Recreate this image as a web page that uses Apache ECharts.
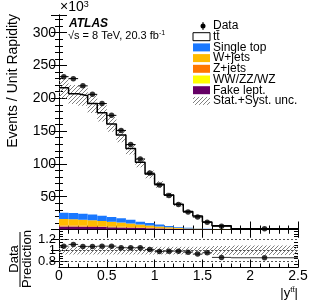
<!DOCTYPE html>
<html><head><meta charset="utf-8">
<script src="https://cdn.jsdelivr.net/npm/echarts@6/dist/echarts.min.js"></script>
<style>html,body{margin:0;padding:0;background:#fff}#c{width:316px;height:306px}</style>
</head><body><div id="c"></div>
<script>
// ---- data (values in 10^3 events / unit rapidity) ----
const binEdges = [0,0.1,0.2,0.3,0.4,0.5,0.6,0.7,0.8,0.9,1.0,1.1,1.2,1.3,1.4,1.5,1.6,1.8,2.5];
const dataVals = [233,230,219,206,192,174,151,129.5,107.5,86,68,52,38,26.5,19,11,5,1];
const predTotal = [216,207,204,192,178,161,144,123.5,102.5,84.5,69,52.7,38.5,27.3,20.4,11.5,5.7,1.15];
const singleTop = [9.5,9.5,9,9,8,7,6.5,6,4.5,4,3,2,1.2,1,0.5,0.4,0.2,0.05];
const wJets     = [10,9.5,9.3,8.5,8,7.4,6.4,5.5,4.5,3.5,2.6,2.1,1.3,0.8,0.55,0.3,0.15,0.02];
const zJets     = [1.2,1.2,1.1,1.1,1.0,0.9,0.8,0.7,0.6,0.5,0.4,0.3,0.2,0.15,0.1,0.06,0.03,0.005];
const diboson   = [0.4,0.4,0.4,0.35,0.35,0.3,0.3,0.25,0.2,0.2,0.15,0.1,0.08,0.06,0.04,0.03,0.02,0.005];
const fakeLept  = [4.5,4.4,4.2,4.0,3.7,3.4,3.0,2.6,2.2,1.8,1.4,1.0,0.7,0.5,0.3,0.2,0.1,0.02];
const ratioVals = [1.078,1.109,1.073,1.073,1.078,1.078,1.049,1.049,1.049,1.018,0.982,0.987,0.987,0.969,0.933,0.958,0.873,0.867];
const uncUp   = [0.065,0.065,0.065,0.065,0.065,0.065,0.065,0.065,0.065,0.065,0.065,0.065,0.065,0.065,0.065,0.07,0.08,0.09];
const uncDown = [0.075,0.075,0.075,0.075,0.075,0.075,0.075,0.075,0.075,0.075,0.075,0.075,0.075,0.075,0.075,0.08,0.085,0.085];
const xTickLabels = ['0','0.5','1','1.5','2','2.5'];
const ratioTickLabels = [0.8,1,1.2];

const FONT = '"Liberation Sans", Arial, sans-serif';
const nb = dataVals.length;

// hatch pattern
function makeHatch(n, col){
  const c = document.createElement('canvas'); c.width = n; c.height = n;
  const g = c.getContext('2d'); g.fillStyle = col;
  for (let i = 0; i < n; i++) g.fillRect(i, n-1-i, 1, 1);
  return {image: c, repeat: 'repeat'};
}
const hatch = makeHatch(4, '#808080');

// stacked components (bottom -> top)
const comps = [
  {name:'Fake lept.', vals: fakeLept, color:'#660066'},
  {name:'WW/ZZ/WZ', vals: diboson, color:'#ffff00'},
  {name:'Z+jets', vals: zJets, color:'#ff7700'},
  {name:'W+jets', vals: wJets, color:'#ffbb00'},
  {name:'Single top', vals: singleTop, color:'#1a78ff'}
];
const cum = new Array(nb).fill(0);
const rectSeries = comps.map(c => {
  const d = [];
  for (let i = 0; i < nb; i++) { d.push([binEdges[i], binEdges[i+1], cum[i], cum[i] + c.vals[i]]); cum[i] += c.vals[i]; }
  return mkRect(c.name, d, c.color, 0, 1);
});

function mkRect(name, data, fill, gi, z){
  return {
    type:'custom', name, xAxisIndex: gi === 0 ? 0 : 2, yAxisIndex: gi === 0 ? 0 : 2, z,
    data, encode:{x:[0,1], y:[2,3]}, clip:true, silent:true,
    renderItem(params, api){
      const p0 = api.coord([api.value(0), api.value(3)]);
      const p1 = api.coord([api.value(1), api.value(2)]);
      return {type:'rect', shape:{x:p0[0], y:p0[1], width:p1[0]-p0[0], height:p1[1]-p0[1]}, style:{fill, stroke:null}};
    }
  };
}
function mkHBars(name, data, color, gi, z){
  return {
    type:'custom', name, xAxisIndex: gi === 0 ? 0 : 2, yAxisIndex: gi === 0 ? 0 : 2, z,
    data, encode:{x:[0,1], y:2}, silent:true,
    renderItem(params, api){
      const p0 = api.coord([api.value(0), api.value(2)]);
      const p1 = api.coord([api.value(1), api.value(2)]);
      return {type:'line', shape:{x1:p0[0], y1:p0[1], x2:p1[0], y2:p1[1]}, style:{stroke:color, lineWidth:1}};
    }
  };
}

const bandMain = [], bandRatio = [], stepPts = [], dataPts = [], dataBars = [], ratioPts = [], ratioBars = [];
for (let i = 0; i < nb; i++) {
  const lo = binEdges[i], hi = binEdges[i+1], c = (lo+hi)/2;
  bandMain.push([lo, hi, predTotal[i]*(1-uncDown[i]), predTotal[i]*(1+uncUp[i])]);
  bandRatio.push([lo, hi, 1-uncDown[i], 1+uncUp[i]]);
  stepPts.push([lo, predTotal[i]], [hi, predTotal[i]]);
  dataPts.push([c, dataVals[i]]);
  dataBars.push([lo, hi, dataVals[i]]);
  ratioPts.push([c, ratioVals[i]]);
  ratioBars.push([lo, hi, ratioVals[i]]);
}

const axLine = {show:true, lineStyle:{color:'#000', width:1}};
function xAx(gi, pos, labels){
  return {type:'value', gridIndex:gi, position:pos, min:0, max:2.5, interval:0.5,
    axisLine:axLine, axisTick:{show:true, inside:true, length:8, lineStyle:{color:'#000'}},
    minorTick:{show:true, splitNumber:5, length:4, lineStyle:{color:'#000'}},
    splitLine:{show:false},
    axisLabel: labels ? {show:true, color:'#000', fontSize:14, fontFamily:FONT, margin:2,
      formatter: v => xTickLabels[Math.round(v/0.5)]} : {show:false}};
}
const minorR = [0.7,0.75,0.85,0.9,0.95,1.05,1.1,1.15,1.25,1.3,1.35];
const option = {
  animation:false, backgroundColor:'#fff',
  grid:[
    {left:59, right:18, top:15, height:214.5, containLabel:false},
    {left:59, right:18, top:229.5, height:38, containLabel:false}
  ],
  xAxis:[ xAx(0,'bottom',false), xAx(0,'top',false), xAx(1,'bottom',true), xAx(1,'top',false) ],
  yAxis:[
    {type:'value', gridIndex:0, position:'left', min:0, max:327, interval:50,
      axisLine:axLine, axisTick:{show:true, inside:true, length:8, lineStyle:{color:'#000'}},
      minorTick:{show:true, splitNumber:5, length:4, lineStyle:{color:'#000'}}, splitLine:{show:false},
      axisLabel:{color:'#000', fontSize:14, fontFamily:FONT, margin:3, showMaxLabel:false, formatter: v => v === 0 ? '' : String(v)}},
    {type:'value', gridIndex:0, position:'right', min:0, max:327, interval:50,
      axisLine:axLine, axisTick:{show:true, inside:true, length:8, lineStyle:{color:'#000'}},
      minorTick:{show:true, splitNumber:5, length:4, lineStyle:{color:'#000'}}, splitLine:{show:false},
      axisLabel:{show:false}},
    {type:'value', gridIndex:1, position:'left', min:0.69, max:1.38,
      axisLine:axLine, axisTick:{show:true, inside:true, length:8, customValues:ratioTickLabels, lineStyle:{color:'#000'}},
      splitLine:{show:false}, axisLabel:{show:false}},
    {type:'value', gridIndex:1, position:'right', min:0.69, max:1.38,
      axisLine:axLine, axisTick:{show:true, inside:true, length:8, customValues:ratioTickLabels, lineStyle:{color:'#000'}},
      splitLine:{show:false}, axisLabel:{show:false}},
    {type:'value', gridIndex:1, position:'left', min:0.69, max:1.38,
      axisLine:{show:false}, axisTick:{show:true, inside:true, length:4, customValues:minorR, lineStyle:{color:'#000'}},
      splitLine:{show:false}, axisLabel:{show:false}},
    {type:'value', gridIndex:1, position:'right', min:0.69, max:1.38,
      axisLine:{show:false}, axisTick:{show:true, inside:true, length:4, customValues:minorR, lineStyle:{color:'#000'}},
      splitLine:{show:false}, axisLabel:{show:false}}
  ],
  series:[
    ...rectSeries,
    mkRect('Stat.+Syst. unc.', bandMain, hatch, 0, 2),
    {type:'line', name:'tt', xAxisIndex:0, yAxisIndex:0, data:stepPts, symbol:'none', z:3,
      lineStyle:{color:'#000', width:1.5}, silent:true},
    mkHBars('data bars', dataBars, '#000', 0, 4),
    {type:'scatter', name:'Data', xAxisIndex:0, yAxisIndex:0, data:dataPts, symbol:'circle', symbolSize:5.5, z:5,
      itemStyle:{color:'#000'}, silent:true},
    mkRect('ratio unc', bandRatio, hatch, 1, 2),
    {type:'line', name:'ref', xAxisIndex:2, yAxisIndex:2, data:[], z:3, silent:true,
      markLine:{symbol:'none', silent:true, label:{show:false},
        lineStyle:{color:'#555', type:[2,2], width:1},
        data: ratioTickLabels.map(v => ({yAxis:v}))}},
    mkHBars('ratio bars', ratioBars, '#333', 1, 4),
    {type:'scatter', name:'ratio', xAxisIndex:2, yAxisIndex:2, data:ratioPts, symbol:'circle', symbolSize:5.5, z:5,
      itemStyle:{color:'#000'}, silent:true}
  ],
  graphic:[]
};

// texts and legend
const G = option.graphic;
G.push({type:'text', x:60, y:0, style:{text:'×10{s|3}', fill:'#000', font:'14px '+FONT,
  rich:{s:{fontSize:9, verticalAlign:'top', padding:[0,0,6,0]}}}});
G.push({type:'text', x:13, y:14, rotation:Math.PI/2, style:{text:'Events / Unit Rapidity', fill:'#000',
  font:'14px '+FONT, align:'right', verticalAlign:'middle'}});
G.push({type:'text', x:69, y:24, style:{text:'ATLAS', fill:'#000', font:'italic bold 12px '+FONT, verticalAlign:'middle'}});
G.push({type:'text', x:68, y:36, style:{text:'√s = 8 TeV, 20.3 fb{s|-1}', fill:'#000', font:'11px '+FONT, verticalAlign:'middle',
  rich:{s:{fontSize:7, padding:[0,0,6,0]}}}});
// ratio title
G.push({type:'text', x:14, y:259, rotation:Math.PI/2, style:{text:'Data', fill:'#000', font:'13px '+FONT, align:'center', verticalAlign:'middle'}});
G.push({type:'line', shape:{x1:20, y1:232, x2:20, y2:287}, style:{stroke:'#000', lineWidth:1}});
G.push({type:'text', x:27, y:259, rotation:Math.PI/2, style:{text:'Prediction', fill:'#000', font:'13px '+FONT, align:'center', verticalAlign:'middle'}});
// x title
G.push({type:'text', x:298, y:293, style:{text:'|y{s|tt̄}|', fill:'#000', font:'13px '+FONT, align:'right', verticalAlign:'middle',
  rich:{s:{fontSize:8, padding:[0,0,7,0]}}}});
// legend
const legItems = [
  {name:'Data', kind:'data'},
  {name:'tt̄', kind:'box', fill:'#fff', stroke:'#000'},
  ...comps.slice().reverse().map(c => ({name:c.name, kind:'box', fill:c.color})),
  {name:'Stat.+Syst. unc.', kind:'box', fill:hatch}
];
legItems.forEach((it, k) => {
  const y = 26 + k*10.7;
  if (it.kind === 'data') {
    G.push({type:'line', shape:{x1:203, y1:y-4, x2:203, y2:y+4}, style:{stroke:'#000', lineWidth:1}});
    G.push({type:'circle', shape:{cx:203, cy:y, r:2.5}, style:{fill:'#000'}});
  } else {
    G.push({type:'rect', shape:{x:193, y:y-4, width:17, height:8}, style:{fill:it.fill, stroke:it.stroke || null, lineWidth:1}});
  }
  G.push({type:'text', x:213, y:y, style:{text:it.name, fill:'#000', font:'12px '+FONT, verticalAlign:'middle'}});
});

const chart = echarts.init(document.getElementById('c'), null, {renderer:'canvas'});
chart.setOption(option);
// ratio tick labels placed through the ratio axis scale
const extra = ratioTickLabels.map(v => {
  const py = chart.convertToPixel({yAxisIndex:2}, v);
  return {type:'text', x:56, y:py, z:100, style:{text:String(v), fill:'#000', font:'13px '+FONT, align:'right', verticalAlign:'middle'}};
});
chart.setOption({graphic: option.graphic.concat(extra)});
</script></body></html>
